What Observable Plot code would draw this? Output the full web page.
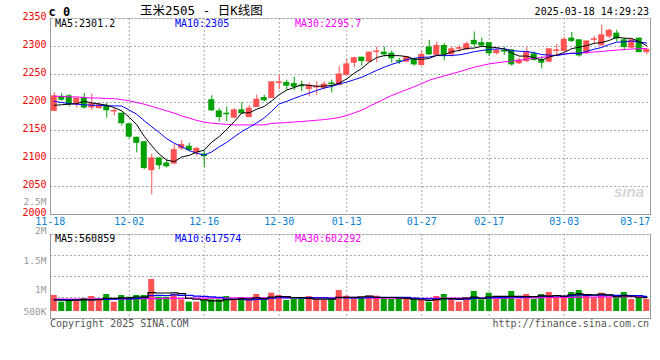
<!DOCTYPE html>
<html><head><meta charset="utf-8">
<script src="https://cdn.jsdelivr.net/npm/d3@7"></script>
<script src="https://cdn.jsdelivr.net/npm/@observablehq/plot@0.6"></script>
<style>
body{margin:0;background:#fff;}
#wrap{position:relative;width:660px;height:360px;overflow:hidden;background:#fff;font-family:"DejaVu Sans Mono",monospace;}
#wrap svg{position:absolute;left:0;top:0;}
.t{position:absolute;white-space:pre;}
</style></head><body><div id="wrap"></div>
<script>
// ---------- data ----------
const dates = ["11-18","11-19","11-20","11-21","11-22","11-25","11-26","11-27","11-28","11-29",
"12-02","12-03","12-04","12-05","12-06","12-09","12-10","12-11","12-12","12-13","12-16","12-17","12-18","12-19","12-20","12-23","12-24","12-25","12-26","12-27","12-30","12-31",
"01-02","01-03","01-06","01-07","01-08","01-09","01-10","01-13","01-14","01-15","01-16","01-17","01-20","01-21","01-22","01-23","01-24","01-27",
"02-05","02-06","02-07","02-10","02-11","02-12","02-13","02-14","02-17","02-18","02-19","02-20","02-21","02-24","02-25","02-26","02-27","02-28",
"03-03","03-04","03-05","03-06","03-07","03-10","03-11","03-12","03-13","03-14","03-17","03-18"];
const open = [2185,2210,2211,2197,2208,2191,2190,2193,2184,2180,2161,2137,2129,2079,2100,2091,2091,2118,2121,2111,
2107,2204,2184,2180,2173,2186,2174,2192,2208,2208,2235,2235,2233,2230,2224,2227,2226,2234,2231,2249,
2271,2280,2273,2290,2289,2287,2274,2273,2277,2267,2298,2285,2301,2286,2296,2295,2310,2306,2306,2288,
2292,2293,2270,2274,2286,2275,2273,2292,2292,2314,2311,2288,2312,2302,2318,2323,2311,2298,2314,2290];
const high = [2217,2216,2214,2208,2216,2215,2198,2198,2189,2181,2162,2138,2130,2108,2102,2097,2126,2132,2127,2120,
2113,2212,2189,2192,2189,2200,2195,2213,2213,2237,2249,2240,2245,2238,2235,2237,2237,2240,2264,2277,
2281,2281,2290,2299,2299,2292,2279,2281,2279,2291,2311,2308,2305,2299,2301,2308,2326,2315,2307,2296,
2299,2294,2279,2298,2290,2282,2296,2304,2316,2325,2312,2310,2318,2338,2331,2329,2315,2313,2315,2296];
const low = [2184,2202,2192,2190,2188,2186,2188,2172,2176,2158,2135,2110,2080,2035,2080,2083,2089,2114,2112,2103,
2084,2184,2165,2166,2171,2179,2173,2191,2201,2207,2223,2222,2221,2219,2210,2213,2222,2217,2230,2248,
2262,2265,2271,2271,2281,2270,2268,2271,2265,2265,2284,2284,2274,2281,2290,2293,2299,2298,2282,2285,
2284,2265,2268,2271,2274,2260,2271,2284,2291,2307,2281,2286,2305,2301,2314,2308,2293,2296,2289,2285];
const close = [2211,2205,2197,2207,2191,2197,2195,2186,2185,2163,2139,2128,2083,2100,2088,2086,2115,2124,2115,2117,
2104,2186,2174,2179,2186,2181,2189,2205,2204,2236,2236,2230,2228,2229,2230,2228,2232,2233,2250,2268,
2279,2274,2289,2291,2286,2279,2273,2281,2268,2285,2286,2301,2286,2295,2297,2304,2304,2302,2288,2292,
2291,2268,2275,2289,2276,2271,2295,2293,2312,2310,2284,2309,2313,2320,2328,2314,2299,2311,2290,2294];
const volume = [648000,377000,417000,417000,527000,608000,446000,689000,377000,648000,
579000,648000,648000,1296000,579000,579000,676000,474000,377000,377000,
446000,474000,474000,608000,446000,567000,446000,689000,474000,741000,
648000,446000,486000,486000,608000,474000,446000,474000,851000,620000,
486000,539000,620000,620000,567000,486000,486000,486000,474000,446000,
377000,608000,689000,486000,377000,539000,810000,474000,741000,486000,
539000,810000,486000,689000,486000,689000,770000,579000,579000,770000,
851000,620000,539000,741000,555000,539000,770000,486000,539000,486000];
// moving-average values before enough in-window history exists
const ma5Head = [2195,2196,2197,2198];
const ma10Head = [2202,2200,2198,2197,2196,2195,2195,2194,2194];
const ma30Head = [2211,2211,2210,2210,2209,2208,2208,2207,2207,2205,2203,2200,2197,2193,2189,2185,2181,2176,2172,2168,2165,2163,2162,2161,2160,2160,2160,2160,2160];
const vma5Head = [470000,455000,450000,460000];
const vma10Head = [480000,480000,475000,475000,480000,485000,490000,495000,500000];
const vma30Head = [500000,500000,500000,505000,505000,505000,510000,510000,510000,515000,515000,520000,520000,525000,525000,530000,530000,535000,535000,540000,540000,545000,545000,545000,550000,550000,550000,555000,555000];
const priceTicks = [2000,2050,2100,2150,2200,2250,2300,2350];
const dateLabels = ["11-18","12-02","12-16","12-30","01-13","01-27","02-17","03-03","03-17"];
const volTickValues = [500000,1000000,1500000,2000000,2500000];
const volTickLabels = ["500K","1M","1.5M","2M","2.5M"];
const titleText = "玉米2505 - 日K线图";
const stampText = "2025-03-18 14:29:23";
const priceLegend = ["MA5:2301.2","MA10:2305","MA30:2295.7"];
const volLegend = ["MA5:560859","MA10:617574","MA30:602292"];

// ---------- derived ----------
function movingAvg(vals, n, head){
  return vals.map((v,i)=> i < n-1 ? head[i] : d3.mean(vals.slice(i-n+1, i+1)));
}
const ma5 = movingAvg(close,5,ma5Head), ma10 = movingAvg(close,10,ma10Head), ma30 = movingAvg(close,30,ma30Head);
const vma5 = movingAvg(volume,5,vma5Head), vma10 = movingAvg(volume,10,vma10Head), vma30 = movingAvg(volume,30,vma30Head);
const RED="#ff5252", GREEN="#00a000", GRID="#aaaaaa", BORDER="#999999";
const rows = dates.map((d,i)=>({date:d,o:open[i],h:high[i],l:low[i],c:close[i],v:volume[i],
  col: close[i]>=open[i]?RED:GREEN, ma5:ma5[i],ma10:ma10[i],ma30:ma30[i],vma5:vma5[i],vma10:vma10[i],vma30:vma30[i]}));
const gridDates = dateLabels.slice(1,-1);
const FONT = "DejaVu Sans Mono";
const xOpt = {type:"band", domain:dates, paddingInner:0.2, paddingOuter:0.1, axis:null};
const base = {width:660, height:360, marginLeft:50, marginRight:10,
  style:{background:"transparent", fontFamily:FONT, fontSize:"10px"}, color:{type:"identity"}};
const wrap = document.getElementById("wrap");

// ---------- price panel ----------
const price = Plot.plot({...base, marginTop:18, marginBottom:146,
  x:xOpt, y:{domain:[2000,2350], axis:null, label:null},
  marks:[
    Plot.ruleY(priceTicks.slice(1,-1), {stroke:GRID, strokeDasharray:"2,2"}),
    Plot.ruleX(gridDates, {x:d=>d, stroke:GRID, strokeDasharray:"2,2"}),
    Plot.frame({anchor:"top", stroke:GRID, strokeDasharray:"2,2"}),
    Plot.frame({anchor:"left", stroke:BORDER}),
    Plot.frame({anchor:"right", stroke:BORDER}),
    Plot.frame({anchor:"bottom", stroke:BORDER}),
    Plot.ruleX(rows, {x:"date", y1:"l", y2:"h", stroke:"col", strokeWidth:1}),
    Plot.barY(rows, {x:"date", y1:d=>Math.min(d.o,d.c), y2:d=>Math.max(d.o,d.c), fill:"col", insetTop:-0.5, insetBottom:-0.5}),
    Plot.lineY(rows, {x:"date", y:"ma30", stroke:"#ff00ff", strokeWidth:1}),
    Plot.lineY(rows, {x:"date", y:"ma10", stroke:"#0000ff", strokeWidth:1}),
    Plot.lineY(rows, {x:"date", y:"ma5", stroke:"#000000", strokeWidth:1}),
    Plot.axisY(priceTicks, {anchor:"left", tickSize:0, tickPadding:4, color:"#ee0000", dy:-1.5, label:null, tickFormat:d=>String(d), fontSize:10}),
    Plot.text(gridDates, {x:d=>d, text:d=>d, frameAnchor:"bottom", lineAnchor:"middle", dy:7.5, fill:"#0a7fd4", fontSize:10}),
    Plot.text(dateLabels.slice(0,1), {x:d=>d, text:d=>d, frameAnchor:"bottom", lineAnchor:"middle", dy:7.5, dx:-4, fill:"#0a7fd4", fontSize:10}),
    Plot.text(dateLabels.slice(-1), {x:d=>d, text:d=>d, frameAnchor:"bottom", lineAnchor:"middle", dy:7.5, dx:11, textAnchor:"end", fill:"#0a7fd4", fontSize:10})
  ]});
wrap.appendChild(price);

// ---------- volume panel ----------
const vLo = -283500, vHi = 3118500;
const volGrid = [0.25,0.5,0.75].map(f=>vLo+(vHi-vLo)*f);
const vol = Plot.plot({...base, marginTop:234, marginBottom:42,
  x:xOpt, y:{domain:[vLo,vHi], axis:null, label:null},
  marks:[
    Plot.ruleY(volGrid, {stroke:GRID, strokeDasharray:"2,2"}),
    Plot.ruleX(gridDates, {x:d=>d, stroke:GRID, strokeDasharray:"2,2"}),
    Plot.frame({anchor:"top", stroke:GRID, strokeDasharray:"2,2"}),
    Plot.frame({anchor:"left", stroke:BORDER}),
    Plot.frame({anchor:"right", stroke:BORDER}),
    Plot.frame({anchor:"bottom", stroke:BORDER}),
    Plot.barY(rows, {x:"date", y:"v", fill:"col"}),
    Plot.lineY(rows, {x:"date", y:"vma30", stroke:"#ff00ff", strokeWidth:1.2, curve:"step"}),
    Plot.lineY(rows, {x:"date", y:"vma10", stroke:"#0000ff", strokeWidth:1.2, curve:"step"}),
    Plot.lineY(rows, {x:"date", y:"vma5", stroke:"#000000", strokeWidth:1.2, curve:"step"})
  ]});
wrap.appendChild(vol);

// ---------- volume tick labels (own scale, as in the source chart) ----------
const fmtVol = v => volTickLabels[volTickValues.indexOf(v)];
const vlab = Plot.plot({...base, marginTop:201, marginBottom:41,
  y:{domain:[500000,2500000], axis:null, label:null},
  marks:[
    Plot.axisY(volTickValues.slice(1), {anchor:"left", tickSize:0, tickPadding:4, color:"#999999", label:null, tickFormat:fmtVol, fontSize:9.5}),
    Plot.text(volTickValues.slice(0,1), {y:d=>d, text:fmtVol, frameAnchor:"left", dx:-4, dy:-8, textAnchor:"end", fill:"#999999", fontSize:9.5})
  ]});
wrap.appendChild(vlab);

// ---------- texts ----------
function put(text,{x,y,size=10,color="#000",anchor="start",weight="normal",family=FONT,style="normal"}){
  const el=document.createElement("div"); el.className="t"; el.textContent=text;
  el.style.fontSize=size+"px"; el.style.lineHeight=size+"px"; el.style.color=color;
  el.style.fontWeight=weight; el.style.fontFamily=family; el.style.fontStyle=style;
  el.style.top=(y-size*0.48)+"px";
  if(anchor==="end") el.style.right=(660-x)+"px"; else el.style.left=x+"px";
  wrap.appendChild(el);
}
put("c 0",{x:48.5,y:12,size:12,weight:"bold"});
put(titleText,{x:140,y:11,size:12.5,family:FONT+",'Noto Sans CJK SC'"});
put(stampText,{x:649,y:12,anchor:"end"});
const legCol=["#000000","#0000ff","#ff00ff"], legX=[55,175,295];
priceLegend.forEach((t,i)=>put(t,{x:legX[i],y:23.5,color:legCol[i]}));
volLegend.forEach((t,i)=>put(t,{x:legX[i],y:238.5,color:legCol[i]}));
put("Copyright 2025 SINA.COM",{x:50,y:323.5,color:"#555"});
put("http://finance.sina.com.cn",{x:649,y:323.5,color:"#555",anchor:"end"});
put("sina",{x:614,y:191,size:15,color:"#d6d6d6",weight:"bold",style:"italic",family:"'Liberation Sans'"});
</script></body></html>
